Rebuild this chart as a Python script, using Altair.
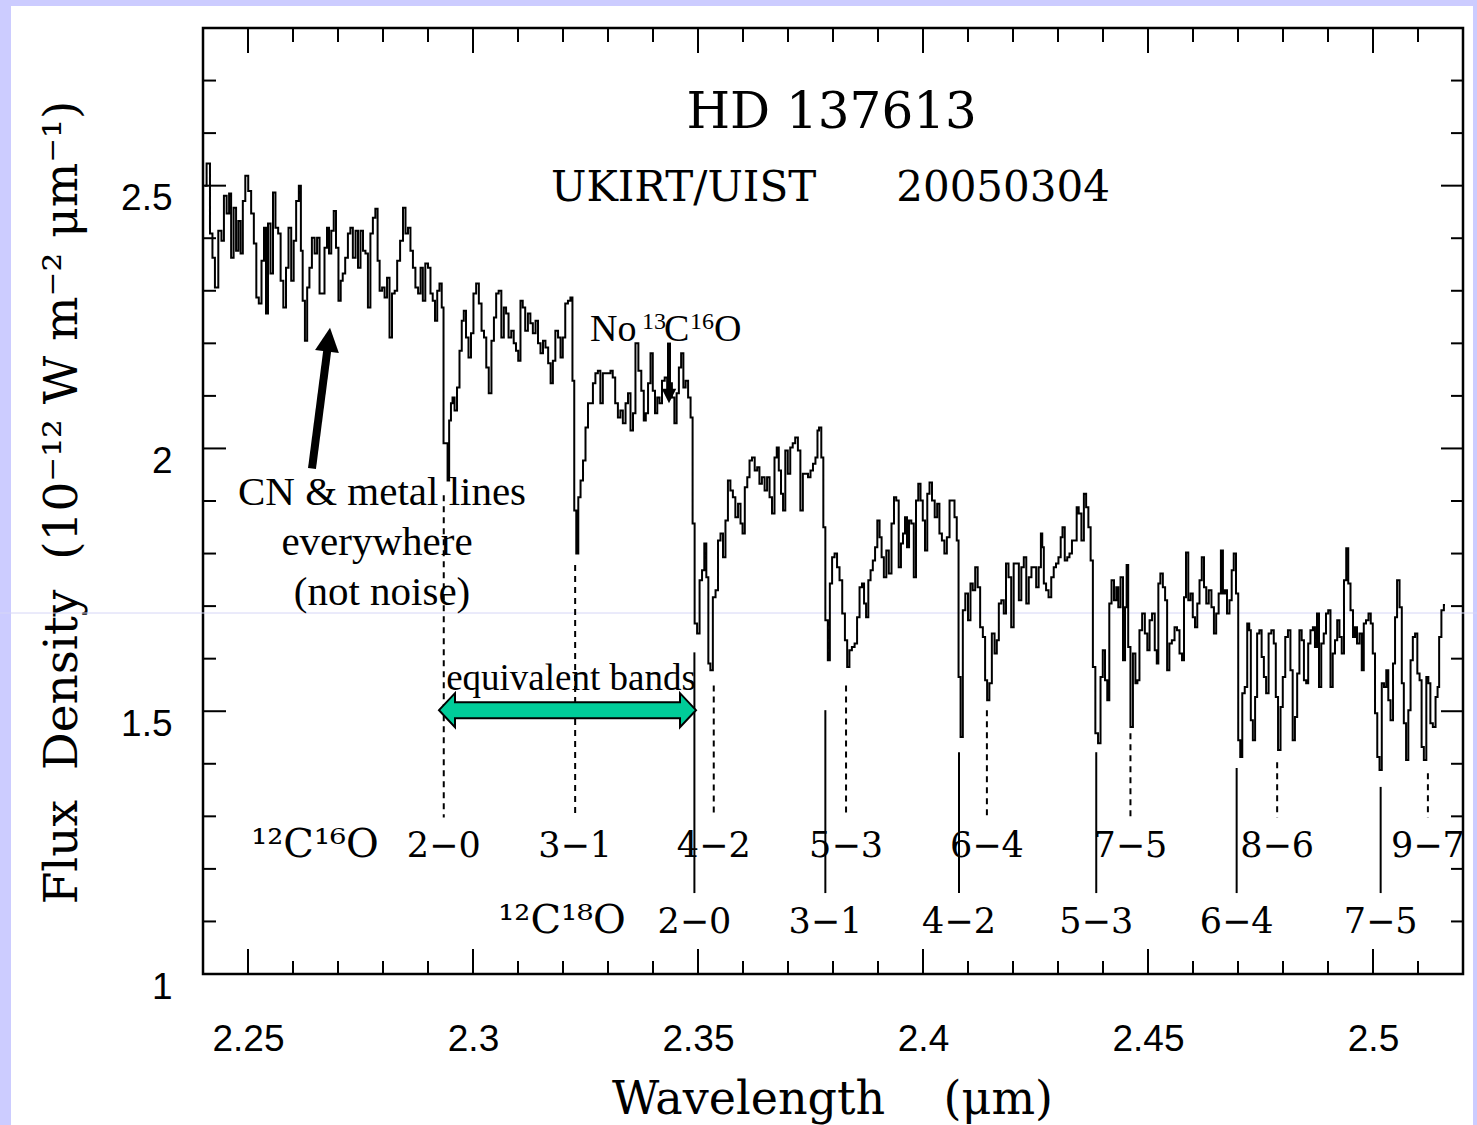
import altair as alt
import pandas as pd

# ---------------------------------------------------------------
# HD 137613, UKIRT/UIST K-band spectrum (2005-03-04)
# wavelength in micron, flux density in 1e-12 W m^-2 um^-1
# ---------------------------------------------------------------
wavelength_um = [
    # 2.240 - 2.293
    2.2404, 2.2412, 2.2419, 2.2423, 2.2430, 2.2438, 2.2444, 2.2449, 2.2456, 2.2460,
    2.2465, 2.2471, 2.2476, 2.2481, 2.2486, 2.2491, 2.2497, 2.2504, 2.2510, 2.2516,
    2.2521, 2.2527, 2.2533, 2.2538, 2.2542, 2.2547, 2.2553, 2.2558, 2.2564, 2.2570,
    2.2575, 2.2582, 2.2587, 2.2593, 2.2599, 2.2604, 2.2610, 2.2616, 2.2619, 2.2624,
    2.2629, 2.2634, 2.2639, 2.2645, 2.2651, 2.2656, 2.2662, 2.2667, 2.2673, 2.2678,
    2.2682, 2.2688, 2.2693, 2.2698, 2.2704, 2.2708, 2.2713, 2.2719, 2.2725, 2.2730,
    2.2736, 2.2742, 2.2747, 2.2753, 2.2758, 2.2764, 2.2769, 2.2775, 2.2780, 2.2786,
    2.2790, 2.2795, 2.2801, 2.2806, 2.2812, 2.2817, 2.2823, 2.2829, 2.2834, 2.2842,
    2.2847, 2.2853, 2.2858, 2.2864, 2.2869, 2.2875, 2.2881, 2.2886, 2.2891, 2.2897,
    2.2903, 2.2908, 2.2913, 2.2918, 2.2923, 2.2928, 2.2933,
    # 2.293 - 2.336
    2.2936, 2.2942, 2.2945, 2.2949, 2.2953, 2.2956, 2.2962, 2.2967, 2.2973, 2.2977,
    2.2982, 2.2987, 2.2993, 2.2998, 2.3004, 2.3010, 2.3016, 2.3022, 2.3027, 2.3032,
    2.3038, 2.3044, 2.3049, 2.3054, 2.3060, 2.3066, 2.3071, 2.3076, 2.3082, 2.3088,
    2.3093, 2.3098, 2.3103, 2.3108, 2.3113, 2.3119, 2.3125, 2.3130, 2.3136, 2.3142,
    2.3147, 2.3153, 2.3158, 2.3164, 2.3170, 2.3175, 2.3180, 2.3186, 2.3192, 2.3197,
    2.3202, 2.3208, 2.3214, 2.3219, 2.3223, 2.3227, 2.3232, 2.3236, 2.3242, 2.3247,
    2.3253, 2.3258, 2.3264, 2.3269, 2.3275, 2.3280, 2.3286, 2.3291, 2.3297, 2.3303,
    2.3308, 2.3313, 2.3319, 2.3325, 2.3330, 2.3336, 2.3342, 2.3347, 2.3353, 2.3358,
    # 2.336 - 2.383
    2.3364, 2.3371, 2.3377, 2.3382, 2.3386, 2.3392, 2.3397, 2.3402, 2.3407, 2.3412,
    2.3417, 2.3423, 2.3429, 2.3434, 2.3439, 2.3445, 2.3450, 2.3455, 2.3460, 2.3465,
    2.3470, 2.3475, 2.3481, 2.3486, 2.3490, 2.3495, 2.3501, 2.3506, 2.3512, 2.3516,
    2.3521, 2.3525, 2.3530, 2.3536, 2.3542, 2.3547, 2.3553, 2.3558, 2.3564, 2.3569,
    2.3575, 2.3580, 2.3586, 2.3592, 2.3597, 2.3601, 2.3607, 2.3612, 2.3617, 2.3623,
    2.3629, 2.3634, 2.3639, 2.3645, 2.3651, 2.3656, 2.3662, 2.3667, 2.3673, 2.3677,
    2.3682, 2.3687, 2.3691, 2.3697, 2.3702, 2.3708, 2.3713, 2.3719, 2.3725, 2.3730,
    2.3736, 2.3742, 2.3747, 2.3753, 2.3758, 2.3764, 2.3767, 2.3771, 2.3777, 2.3780,
    2.3786, 2.3791, 2.3795, 2.3801, 2.3806, 2.3812, 2.3817, 2.3824, 2.3829, 2.3834,
    # 2.384 - 2.426
    2.3839, 2.3845, 2.3851, 2.3856, 2.3862, 2.3867, 2.3871, 2.3876, 2.3881, 2.3886,
    2.3891, 2.3896, 2.3901, 2.3906, 2.3910, 2.3916, 2.3921, 2.3927, 2.3933, 2.3938,
    2.3943, 2.3949, 2.3953, 2.3958, 2.3962, 2.3967, 2.3971, 2.3977, 2.3982, 2.3987,
    2.3992, 2.3997, 2.4002, 2.4007, 2.4012, 2.4017, 2.4023, 2.4029, 2.4034, 2.4039,
    2.4045, 2.4050, 2.4056, 2.4062, 2.4067, 2.4073, 2.4077, 2.4081, 2.4086, 2.4091,
    2.4097, 2.4103, 2.4108, 2.4113, 2.4119, 2.4124, 2.4130, 2.4136, 2.4140, 2.4145,
    2.4150, 2.4156, 2.4162, 2.4166, 2.4171, 2.4177, 2.4182, 2.4187, 2.4193, 2.4199,
    2.4204, 2.4210, 2.4216, 2.4221, 2.4227, 2.4232, 2.4238, 2.4244, 2.4249, 2.4254,
    2.4260, 2.4264,
    # 2.427 - 2.472
    2.4266, 2.4271, 2.4276, 2.4282, 2.4288, 2.4293, 2.4298, 2.4304, 2.4308, 2.4312,
    2.4318, 2.4323, 2.4328, 2.4334, 2.4340, 2.4343, 2.4349, 2.4355, 2.4360, 2.4365,
    2.4370, 2.4375, 2.4380, 2.4386, 2.4392, 2.4397, 2.4402, 2.4407, 2.4412, 2.4416,
    2.4422, 2.4427, 2.4432, 2.4436, 2.4442, 2.4447, 2.4451, 2.4454, 2.4458, 2.4464,
    2.4469, 2.4475, 2.4478, 2.4484, 2.4490, 2.4496, 2.4501, 2.4506, 2.4512, 2.4518,
    2.4521, 2.4525, 2.4530, 2.4536, 2.4540, 2.4545, 2.4550, 2.4556, 2.4562, 2.4567,
    2.4573, 2.4578, 2.4582, 2.4587, 2.4592, 2.4597, 2.4602, 2.4607, 2.4612, 2.4617,
    2.4622, 2.4627, 2.4632, 2.4638, 2.4644, 2.4649, 2.4654, 2.4660, 2.4664, 2.4669,
    2.4673, 2.4678, 2.4684, 2.4688, 2.4693, 2.4698, 2.4703, 2.4707, 2.4712, 2.4718,
    # 2.472 - 2.516
    2.4723, 2.4727, 2.4730, 2.4736, 2.4740, 2.4745, 2.4750, 2.4755, 2.4760, 2.4765,
    2.4771, 2.4777, 2.4782, 2.4786, 2.4792, 2.4797, 2.4802, 2.4808, 2.4814, 2.4819,
    2.4824, 2.4829, 2.4834, 2.4839, 2.4844, 2.4849, 2.4854, 2.4858, 2.4864, 2.4869,
    2.4873, 2.4878, 2.4882, 2.4888, 2.4893, 2.4898, 2.4903, 2.4908, 2.4913, 2.4918,
    2.4923, 2.4928, 2.4933, 2.4938, 2.4943, 2.4947, 2.4953, 2.4958, 2.4962, 2.4967,
    2.4973, 2.4977, 2.4982, 2.4987, 2.4993, 2.4997, 2.5002, 2.5007, 2.5012, 2.5017,
    2.5022, 2.5027, 2.5032, 2.5036, 2.5042, 2.5047, 2.5051, 2.5056, 2.5062, 2.5066,
    2.5071, 2.5076, 2.5081, 2.5086, 2.5091, 2.5096, 2.5101, 2.5106, 2.5110, 2.5116,
    2.5121, 2.5125, 2.5130, 2.5136, 2.5142, 2.5145, 2.5149, 2.5155, 2.5160,
]

flux_density = [
    # 2.240 - 2.293
    2.500, 2.542, 2.409, 2.363, 2.306, 2.414, 2.395, 2.481, 2.447, 2.485,
    2.363, 2.458, 2.376, 2.433, 2.371, 2.471, 2.519, 2.490, 2.447, 2.390,
    2.287, 2.276, 2.357, 2.420, 2.257, 2.428, 2.333, 2.487, 2.420, 2.409,
    2.319, 2.268, 2.344, 2.420, 2.319, 2.395, 2.471, 2.500, 2.376, 2.281,
    2.205, 2.306, 2.344, 2.401, 2.371, 2.401, 2.295, 2.295, 2.382, 2.420,
    2.371, 2.414, 2.452, 2.382, 2.281, 2.319, 2.333, 2.363, 2.409, 2.420,
    2.363, 2.414, 2.344, 2.414, 2.376, 2.371, 2.268, 2.409, 2.439, 2.456,
    2.357, 2.300, 2.306, 2.287, 2.325, 2.211, 2.295, 2.300, 2.357, 2.395,
    2.458, 2.409, 2.420, 2.376, 2.344, 2.306, 2.295, 2.344, 2.281, 2.352,
    2.344, 2.295, 2.281, 2.243, 2.300, 2.314, 2.268,
    # 2.293 - 2.336
    2.010, 2.010, 1.939, 2.053, 2.086, 2.097, 2.072, 2.116, 2.186, 2.243,
    2.262, 2.211, 2.173, 2.219, 2.295, 2.314, 2.276, 2.224, 2.211, 2.154,
    2.105, 2.205, 2.249, 2.295, 2.300, 2.211, 2.268, 2.257, 2.211, 2.224,
    2.200, 2.186, 2.167, 2.281, 2.268, 2.224, 2.257, 2.238, 2.219, 2.243,
    2.200, 2.181, 2.205, 2.192, 2.162, 2.124, 2.167, 2.224, 2.211, 2.173,
    2.211, 2.276, 2.281, 2.287, 2.129, 1.882, 1.800, 1.907, 1.939, 1.977,
    2.040, 2.086, 2.086, 2.124, 2.143, 2.148, 2.086, 2.143, 2.143, 2.143,
    2.148, 2.135, 2.086, 2.059, 2.072, 2.048, 2.086, 2.105, 2.034, 2.067,
    # 2.336 - 2.383
    2.200, 2.148, 2.110, 2.053, 2.067, 2.124, 2.181, 2.110, 2.067, 2.097,
    2.086, 2.129, 2.135, 2.105, 2.124, 2.097, 2.048, 2.105, 2.154, 2.181,
    2.116, 2.129, 2.097, 2.059, 1.857, 1.667, 1.648, 1.749, 1.768, 1.819,
    1.755, 1.591, 1.578, 1.717, 1.730, 1.825, 1.838, 1.793, 1.863, 1.939,
    1.920, 1.907, 1.869, 1.895, 1.857, 1.838, 1.926, 1.945, 1.977, 1.983,
    1.958, 1.964, 1.933, 1.945, 1.920, 1.945, 1.907, 1.876, 1.983, 2.002,
    1.958, 1.914, 1.882, 1.996, 1.952, 2.002, 2.010, 2.021, 1.996, 1.882,
    1.952, 1.952, 1.945, 1.958, 1.971, 1.983, 2.034, 2.040, 1.983, 1.850,
    1.673, 1.597, 1.743, 1.793, 1.800, 1.774, 1.749, 1.686, 1.635, 1.584,
    # 2.384 - 2.426
    1.616, 1.622, 1.629, 1.679, 1.736, 1.743, 1.705, 1.679, 1.749, 1.768,
    1.787, 1.812, 1.863, 1.831, 1.793, 1.755, 1.806, 1.762, 1.857, 1.907,
    1.901, 1.774, 1.819, 1.838, 1.869, 1.812, 1.863, 1.857, 1.755, 1.901,
    1.933, 1.901, 1.863, 1.806, 1.914, 1.935, 1.901, 1.869, 1.895, 1.838,
    1.825, 1.800, 1.831, 1.901, 1.901, 1.869, 1.825, 1.565, 1.451, 1.692,
    1.724, 1.673, 1.743, 1.730, 1.774, 1.736, 1.660, 1.641, 1.559, 1.521,
    1.553, 1.648, 1.610, 1.635, 1.705, 1.711, 1.686, 1.781, 1.755, 1.660,
    1.781, 1.781, 1.711, 1.774, 1.793, 1.705, 1.755, 1.774, 1.774, 1.736,
    1.774, 1.838,
    # 2.427 - 2.472
    1.812, 1.743, 1.730, 1.717, 1.755, 1.774, 1.781, 1.793, 1.831, 1.850,
    1.787, 1.793, 1.800, 1.825, 1.825, 1.888, 1.876, 1.825, 1.914, 1.888,
    1.850, 1.787, 1.584, 1.458, 1.439, 1.565, 1.616, 1.559, 1.521, 1.705,
    1.749, 1.711, 1.736, 1.698, 1.755, 1.597, 1.698, 1.778, 1.622, 1.470,
    1.610, 1.553, 1.559, 1.654, 1.686, 1.648, 1.616, 1.673, 1.686, 1.616,
    1.591, 1.743, 1.762, 1.736, 1.711, 1.578, 1.629, 1.635, 1.660, 1.654,
    1.610, 1.597, 1.717, 1.802, 1.711, 1.724, 1.679, 1.660, 1.705, 1.749,
    1.793, 1.736, 1.705, 1.730, 1.698, 1.648, 1.686, 1.724, 1.806, 1.724,
    1.730, 1.686, 1.711, 1.768, 1.800, 1.724, 1.445, 1.413, 1.534, 1.546,
    # 2.472 - 2.516
    1.667, 1.654, 1.483, 1.445, 1.527, 1.648, 1.654, 1.603, 1.565, 1.534,
    1.648, 1.654, 1.629, 1.527, 1.426, 1.508, 1.565, 1.641, 1.654, 1.578,
    1.445, 1.489, 1.572, 1.654, 1.635, 1.559, 1.553, 1.629, 1.654, 1.660,
    1.622, 1.686, 1.546, 1.629, 1.648, 1.686, 1.692, 1.546, 1.610, 1.635,
    1.673, 1.641, 1.610, 1.749, 1.810, 1.743, 1.692, 1.641, 1.660, 1.629,
    1.648, 1.578, 1.667, 1.673, 1.686, 1.667, 1.610, 1.496, 1.413, 1.388,
    1.553, 1.546, 1.578, 1.521, 1.483, 1.591, 1.679, 1.749, 1.698, 1.553,
    1.477, 1.407, 1.502, 1.597, 1.641, 1.648, 1.572, 1.559, 1.432, 1.407,
    1.565, 1.553, 1.477, 1.470, 1.527, 1.546, 1.641, 1.692, 1.702,
]

# 12C16O first-overtone band heads (dashed markers, upper label row)
co16_bands = ["2−0", "3−1", "4−2", "5−3", "6−4", "7−5", "8−6", "9−7"]
co16_heads = [2.2935, 2.3227, 2.3535, 2.3829, 2.4142, 2.4461, 2.4787, 2.5122]
co16_marker_top = [1.911, 1.778, 1.549, 1.549, 1.502, 1.458, 1.403, 1.382]
co16_marker_bottom = 1.298
co16_label_flux = 1.222

# 12C18O band heads (solid markers, lower label row)
co18_bands = ["2−0", "3−1", "4−2", "5−3", "6−4", "7−5"]
co18_heads = [2.3492, 2.3783, 2.4080, 2.4385, 2.4697, 2.5017]
co18_marker_top = [1.612, 1.502, 1.422, 1.422, 1.392, 1.356]
co18_marker_bottom = 1.154
co18_label_flux = 1.078

# axis ticks
x_major = [2.25, 2.30, 2.35, 2.40, 2.45, 2.50]
x_minor = [2.26, 2.27, 2.28, 2.29, 2.31, 2.32, 2.33, 2.34, 2.36, 2.37, 2.38,
           2.39, 2.41, 2.42, 2.43, 2.44, 2.46, 2.47, 2.48, 2.49, 2.51]
y_labels = [1.0, 1.5, 2.0, 2.5]
y_major = [1.5, 2.0, 2.5]
y_minor = [1.1, 1.2, 1.3, 1.4, 1.6, 1.7, 1.8, 1.9, 2.1, 2.2, 2.3, 2.4, 2.6, 2.7]

# ---------------------------------------------------------------
W, H = 1260, 946
XS = alt.Scale(domain=[2.24, 2.52], nice=False, zero=False)
YS = alt.Scale(domain=[1.0, 2.8], nice=False, zero=False)
HERSHEY = "DejaVu Serif"
SLIDE = "Liberation Serif"
LAV = "#ccccff"
NB = "\u00a0"

AXIS_X = alt.Axis(
    values=x_major, labelExpr="'' + datum.value", grid=False, domain=False,
    ticks=False, tickSize=0, labelFont="Liberation Sans", labelFontSize=37,
    labelColor="black", labelPadding=76, labelBaseline="alphabetic", labelFlush=False,
    title="Wavelength" + NB * 4 + "(μm)", titleFont=HERSHEY, titleFontSize=46,
    titleFontWeight="normal", titleColor="black", titleX=629, titleY=139,
    titleAlign="center", titleBaseline="alphabetic")
AXIS_Y = alt.Axis(
    values=y_labels, labelExpr="'' + datum.value", grid=False, domain=False,
    ticks=False, tickSize=0, labelFont="Liberation Sans", labelFontSize=37,
    labelColor="black", labelPadding=31, labelOffset=13, labelBaseline="middle",
    labelAlign="right", labelFlush=False,
    title="Flux" + NB * 2 + "Density" + NB * 2 + "(10⁻¹² W m⁻² μm⁻¹)",
    titleFont=HERSHEY, titleFontSize=47,
    titleFontWeight="normal", titleColor="black", titleAngle=270, titleX=-127,
    titleY=474, titleAlign="center", titleBaseline="alphabetic")


def X(field):
    return alt.X(field, type="quantitative", scale=XS, axis=AXIS_X)


def Y(field):
    return alt.Y(field, type="quantitative", scale=YS, axis=AXIS_Y)


one = pd.DataFrame({"k": [0]})

# slide frame strips around the white page
strips = [
    alt.Chart(one).mark_rect(color=LAV).encode(
        x=alt.value(-203), x2=alt.value(-192), y=alt.value(-28), y2=alt.value(1097)),
    alt.Chart(one).mark_rect(color=LAV).encode(
        x=alt.value(-203), x2=alt.value(1274), y=alt.value(-28), y2=alt.value(-22)),
    alt.Chart(one).mark_rect(color=LAV).encode(
        x=alt.value(1270), x2=alt.value(1274), y=alt.value(-28), y2=alt.value(1097)),
    alt.Chart(one).mark_rule(color="#d6d6f6", strokeWidth=1).encode(
        x=alt.value(-203), x2=alt.value(1274), y=alt.value(585)),
]

# inward-pointing ticks on all four sides
xmaj = pd.DataFrame({"v": x_major})
xmin = pd.DataFrame({"v": x_minor})
ymaj = pd.DataFrame({"v": y_major})
ymin = pd.DataFrame({"v": y_minor})
tick = dict(color="black", strokeWidth=2)
ticks = [
    alt.Chart(xmaj).mark_rule(**tick).encode(x=X("v"), y=alt.value(H), y2=alt.value(H - 25)),
    alt.Chart(xmaj).mark_rule(**tick).encode(x=X("v"), y=alt.value(0), y2=alt.value(25)),
    alt.Chart(xmin).mark_rule(**tick).encode(x=X("v"), y=alt.value(H), y2=alt.value(H - 13)),
    alt.Chart(xmin).mark_rule(**tick).encode(x=X("v"), y=alt.value(0), y2=alt.value(14)),
    alt.Chart(ymaj).mark_rule(**tick).encode(y=Y("v"), x=alt.value(0), x2=alt.value(23)),
    alt.Chart(ymaj).mark_rule(**tick).encode(y=Y("v"), x=alt.value(W), x2=alt.value(W - 22)),
    alt.Chart(ymin).mark_rule(**tick).encode(y=Y("v"), x=alt.value(0), x2=alt.value(13)),
    alt.Chart(ymin).mark_rule(**tick).encode(y=Y("v"), x=alt.value(W), x2=alt.value(W - 12)),
]

# band-head markers
co16 = pd.DataFrame({"wl": co16_heads, "top": co16_marker_top,
                     "bottom": [co16_marker_bottom] * len(co16_heads),
                     "lab": [co16_label_flux] * len(co16_heads), "band": co16_bands})
co18 = pd.DataFrame({"wl": co18_heads, "top": co18_marker_top,
                     "bottom": [co18_marker_bottom] * len(co18_heads),
                     "lab": [co18_label_flux] * len(co18_heads), "band": co18_bands})
markers = [
    alt.Chart(co16).mark_rule(color="black", strokeWidth=2, strokeDash=[6, 5]).encode(
        x=X("wl"), y=Y("top"), y2="bottom"),
    alt.Chart(co18).mark_rule(color="black", strokeWidth=2).encode(
        x=X("wl"), y=Y("top"), y2="bottom"),
]

band_text = dict(font=HERSHEY, fontSize=35, color="black", align="center", baseline="alphabetic")
band_labels = [
    alt.Chart(co16).mark_text(**band_text).encode(x=X("wl"), y=Y("lab"), text="band"),
    alt.Chart(co18).mark_text(**band_text).encode(x=X("wl"), y=Y("lab"), text="band"),
    alt.Chart(pd.DataFrame({"wl": [2.2649, 2.3198], "f": [co16_label_flux, co18_label_flux],
                            "t": ["¹²C¹⁶O", "¹²C¹⁸O"]}))
    .mark_text(font=HERSHEY, fontSize=40, color="black", align="center", baseline="alphabetic")
    .encode(x=X("wl"), y=Y("f"), text="t"),
]

# the spectrum itself
spec = pd.DataFrame({"wavelength": wavelength_um, "flux": flux_density})
spectrum = alt.Chart(spec).mark_line(color="black", strokeWidth=2, interpolate="step").encode(
    x=X("wavelength"), y=Y("flux"))

# plot titles
titles = alt.Chart(pd.DataFrame({
    "wl": [2.3797, 2.3468, 2.4178], "f": [2.610, 2.4715, 2.4715],
    "t": ["HD 137613", "UKIRT/UIST", "20050304"], "s": [50, 42, 42]})).mark_text(
    font=HERSHEY, color="black", align="center", baseline="alphabetic").encode(
    x=X("wl"), y=Y("f"), text="t", size=alt.Size("s:Q", scale=None, legend=None))

# slide annotations
notes = alt.Chart(pd.DataFrame({
    "wl": [2.27978, 2.27867, 2.27978, 2.32178],
    "f": [1.8916, 1.7966, 1.7015, 1.540],
    "t": ["CN & metal lines", "everywhere", "(not noise)", "equivalent bands"],
    "s": [41, 41, 41, 37]})).mark_text(
    font=SLIDE, color="black", align="center", baseline="alphabetic").encode(
    x=X("wl"), y=Y("f"), text="t", size=alt.Size("s:Q", scale=None, legend=None))

no13 = alt.Chart(pd.DataFrame({
    "wl": [2.3260, 2.33756, 2.34244, 2.34822, 2.35356],
    "f": [2.2053, 2.2281, 2.2053, 2.2281, 2.2053],
    "t": ["No", "13", "C", "16", "O"], "s": [38, 24, 38, 24, 38]})).mark_text(
    font=SLIDE, color="black", align="left", baseline="alphabetic").encode(
    x=X("wl"), y=Y("f"), text="t", size=alt.Size("s:Q", scale=None, legend=None))

# arrows: shafts and heads
shafts = pd.DataFrame({"x1": [2.26422, 2.34356], "x2": [2.26767, 2.34356],
                       "y1": [1.962, 2.2015], "y2": [2.190, 2.1065], "w": [8, 4]})
arrow_shafts = alt.Chart(shafts).mark_rule(color="black", strokeCap="butt").encode(
    x=X("x1"), x2="x2", y=Y("y1"), y2="y2",
    strokeWidth=alt.StrokeWidth("w:Q", scale=None, legend=None))
HEAD = "M0,-1L1,1L-1,1Z"
head_big = alt.Chart(pd.DataFrame({"wl": [2.26789], "f": [2.2072]})).mark_point(
    shape=HEAD, filled=True, size=576, angle=7.3, color="black", opacity=1).encode(
    x=X("wl"), y=Y("f"))
head_small = alt.Chart(pd.DataFrame({"wl": [2.34356], "f": [2.0998]})).mark_point(
    shape=HEAD, filled=True, size=210, angle=180, color="black", opacity=1).encode(
    x=X("wl"), y=Y("f"))

# double-headed arrow between the two equivalent 2-0 band heads
DOUBLE_ARROW = ("M-1,0L-0.8755,-0.1323L-0.8755,-0.0623L0.8755,-0.0623L0.8755,-0.1323"
                "L1,0L0.8755,0.1323L0.8755,0.0623L-0.8755,0.0623L-0.8755,0.1323Z")
double_arrow = alt.Chart(pd.DataFrame({"wl": [2.3210], "f": [1.502]})).mark_point(
    shape=DOUBLE_ARROW, size=257 * 257, fill="#00cc99", fillOpacity=1, opacity=1,
    stroke="black", strokeWidth=2, strokeJoin="miter").encode(
    x=X("wl"), y=Y("f"))

chart = alt.layer(
    *strips, *ticks, *markers, spectrum, *band_labels, titles,
    double_arrow, notes, no13, arrow_shafts, head_big, head_small,
).properties(
    width=W, height=H,
    padding={"left": 203, "top": 28, "right": 14, "bottom": 151},
    autosize=alt.AutoSizeParams(type="none"),
    background="white",
).configure_view(stroke="black", strokeWidth=2.5)

chart.save("out.html", embed_options={"renderer": "svg", "actions": False})
